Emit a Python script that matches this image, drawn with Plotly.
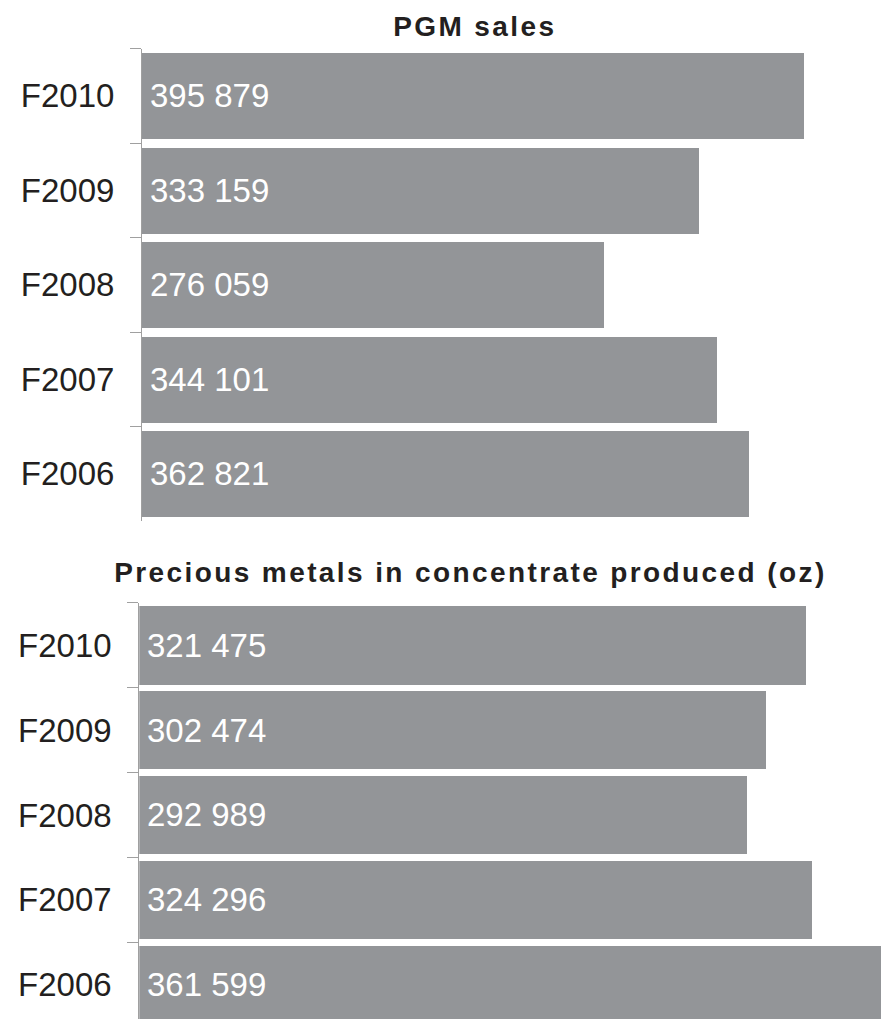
import plotly.graph_objects as go

# Fiscal years, top row first
years = ["F2010", "F2009", "F2008", "F2007", "F2006"]

# PGM sales
pgm_sales = [395879, 333159, 276059, 344101, 362821]

# Precious metals in concentrate produced (oz)
pm_produced = [321475, 302474, 292989, 324296, 361599]

titles = ["PGM sales", "Precious metals in concentrate produced (oz)"]

BAR = "#939598"
AXIS = "#a0a0a0"
FONT = "Liberation Sans, Arial, Helvetica, sans-serif"
W, H = 881, 1019


def fmt(v):
    return f"{v:,}".replace(",", " ")


fig = go.Figure()
fig.add_trace(go.Bar(y=years, x=pgm_sales, orientation="h", width=0.915,
                     marker=dict(color=BAR, line=dict(width=0)),
                     xaxis="x", yaxis="y", hoverinfo="skip"))
fig.add_trace(go.Bar(y=years, x=pm_produced, orientation="h", width=0.92,
                     marker=dict(color=BAR, line=dict(width=0)),
                     xaxis="x2", yaxis="y2", hoverinfo="skip"))

annotations = [
    dict(text=titles[0], xref="paper", yref="paper", x=475 / W, y=1 - 26.7 / H,
         xanchor="center", yanchor="middle", showarrow=False,
         font=dict(family=FONT, size=28, color="#231f20", weight=700)),
    dict(text=titles[1], xref="paper", yref="paper", x=470.8 / W, y=1 - 572.3 / H,
         xanchor="center", yanchor="middle", showarrow=False,
         font=dict(family=FONT, size=28, color="#231f20", weight=700)),
]

# value labels written just inside the start of each bar
for xa, ya, vals in (("x", "y", pgm_sales), ("x2", "y2", pm_produced)):
    for yr, v in zip(years, vals):
        annotations.append(dict(text=fmt(v), x=0, y=yr, xref=xa, yref=ya,
                                xanchor="left", yanchor="middle", xshift=6,
                                showarrow=False,
                                font=dict(family=FONT, size=33, color="white")))

yaxis_common = dict(type="category", categoryorder="array", categoryarray=years,
                    showline=True, linecolor=AXIS, linewidth=1,
                    ticks="outside", tickson="boundaries", ticklen=11,
                    tickcolor=AXIS, tickwidth=1, showgrid=False, zeroline=False,
                    ticklabelstandoff=20,
                    tickfont=dict(family=FONT, size=33, color="#231f20"))

fig.update_layout(
    width=W, height=H,
    margin=dict(l=0, r=0, t=0, b=0),
    paper_bgcolor="white", plot_bgcolor="white",
    showlegend=False, bargap=0,
    xaxis=dict(domain=[142 / W, 1], range=[0, 441930], visible=False,
               anchor="y"),
    xaxis2=dict(domain=[139.3 / W, 1], range=[0, 357640], visible=False,
                anchor="y2"),
    yaxis=dict(domain=[1 - 521 / H, 1 - 48.5 / H], range=[4.5, -0.5],
               anchor="x", **yaxis_common),
    yaxis2=dict(domain=[0, 1 - 602.7 / H], range=[4.403, -0.5],
                anchor="x2", **yaxis_common),
    annotations=annotations,
)

# widen the tracking of the two chart titles
spacing_js = """
['0','1'].forEach(function(i){
  var g = document.querySelector('.annotation[data-index="' + i + '"] .annotation-text');
  if (g) { g.style.letterSpacing = '2.4px'; }
});
"""

fig.write_html("out.html", post_script=spacing_js)
